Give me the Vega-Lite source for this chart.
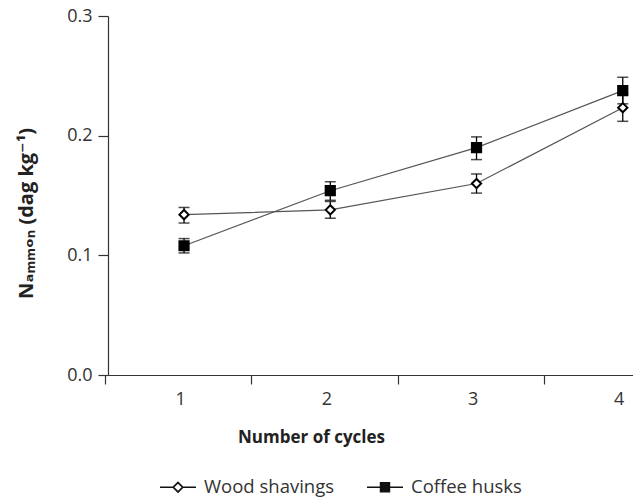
{
  "$schema": "https://vega.github.io/schema/vega-lite/v6.json",
  "width": 525,
  "height": 359,
  "autosize": {"type": "none"},
  "padding": {"left": 108, "top": 16, "right": 0, "bottom": 126},
  "background": "white",
  "config": {
    "view": {"stroke": null},
    "font": "Open Sans, DejaVu Sans",
    "axis": {"grid": false, "domainColor": "#333", "tickColor": "#333", "labelColor": "#333", "titleColor": "#222", "labelFont": "Open Sans", "titleFont": "Open Sans, DejaVu Sans", "domainWidth": 1.2, "tickWidth": 1.2}
  },
  "data": {"values": [
    {"cycle": 1, "series": "Wood shavings", "mean": 0.134, "lo": 0.127, "hi": 0.140},
    {"cycle": 2, "series": "Wood shavings", "mean": 0.138, "lo": 0.131, "hi": 0.145},
    {"cycle": 3, "series": "Wood shavings", "mean": 0.160, "lo": 0.152, "hi": 0.168},
    {"cycle": 4, "series": "Wood shavings", "mean": 0.2234, "lo": 0.212, "hi": 0.235},
    {"cycle": 1, "series": "Coffee husks", "mean": 0.108, "lo": 0.102, "hi": 0.114},
    {"cycle": 2, "series": "Coffee husks", "mean": 0.154, "lo": 0.146, "hi": 0.1615},
    {"cycle": 3, "series": "Coffee husks", "mean": 0.190, "lo": 0.180, "hi": 0.199},
    {"cycle": 4, "series": "Coffee husks", "mean": 0.2376, "lo": 0.2266, "hi": 0.2488}
  ]},
  "encoding": {
    "x": {"field": "cycle", "type": "quantitative",
      "scale": {"domain": [0.48, 4.07], "nice": false, "zero": false},
      "axis": {"values": [1, 2, 3, 4], "format": "d", "tickSize": 9, "tickOffset": -79, "labelOffset": 75, "labelFontSize": 18, "labelPadding": 6,
        "title": "Number of cycles", "titleFontSize": 17, "titleFontWeight": "bold", "titleX": 203, "titleY": 62, "titleBaseline": "middle"}},
    "y": {"type": "quantitative"}
  },
  "resolve": {"scale": {"shape": "independent"}},
  "layer": [
    {
      "mark": {"type": "line", "color": "#555", "strokeWidth": 1.2},
      "encoding": {
        "y": {"field": "mean", "type": "quantitative",
          "scale": {"domain": [0, 0.3], "nice": false},
          "axis": {"values": [0, 0.1, 0.2, 0.3], "format": ".1f", "tickSize": 10, "labelFontSize": 18, "labelPadding": 6,
            "title": "Nₐₘₘₒₙ (dag kg⁻¹)", "titleFontSize": 20, "titleFontWeight": "bold", "titlePadding": 30, "titleY": 197}},
        "detail": {"field": "series"}
      }
    },
    {
      "mark": {"type": "rule", "color": "black", "strokeWidth": 1.3},
      "encoding": {
        "y": {"field": "lo", "type": "quantitative"},
        "y2": {"field": "hi"}
      }
    },
    {
      "mark": {"type": "tick", "orient": "horizontal", "color": "black", "size": 11, "thickness": 1.5},
      "encoding": {"y": {"field": "lo", "type": "quantitative"}}
    },
    {
      "mark": {"type": "tick", "orient": "horizontal", "color": "black", "size": 11, "thickness": 1.5},
      "encoding": {"y": {"field": "hi", "type": "quantitative"}}
    },
    {
      "mark": {"type": "point", "filled": true, "stroke": "black", "strokeWidth": 2, "size": 85, "opacity": 1},
      "encoding": {
        "y": {"field": "mean", "type": "quantitative"},
        "shape": {"field": "series", "type": "nominal",
          "scale": {"domain": ["Wood shavings", "Coffee husks"], "range": ["diamond", "square"]},
          "legend": null},
        "fill": {"field": "series", "type": "nominal",
          "scale": {"domain": ["Wood shavings", "Coffee husks"], "range": ["white", "black"]},
          "legend": null}
      }
    },
    {
      "mark": {"type": "point", "filled": true, "fill": "#111", "strokeWidth": 0, "size": 0, "opacity": 1},
      "encoding": {
        "y": {"field": "mean", "type": "quantitative"},
        "shape": {"field": "series", "type": "nominal",
          "scale": {"domain": ["Wood shavings", "Coffee husks"],
            "range": [
              "M-1,-0.036L-0.3,-0.036L-0.3,0.036L-1,0.036ZM0.3,-0.036L1,-0.036L1,0.036L0.3,0.036ZM0,-0.33L0.33,0L0,0.33L-0.33,0ZM0,-0.2L-0.2,0L0,0.2L0.2,0Z",
              "M-1,-0.036L1,-0.036L1,0.036L-1,0.036ZM-0.29,-0.29L0.29,-0.29L0.29,0.29L-0.29,0.29Z"
            ]},
          "legend": {"orient": "none", "legendX": 52, "legendY": 453, "direction": "horizontal", "title": null,
            "symbolSize": 1296, "symbolOpacity": 1, "symbolFillColor": "#111", "symbolStrokeWidth": 0,
            "labelFontSize": 18.5, "labelColor": "#333", "labelFont": "Open Sans", "labelOffset": 8, "columnPadding": 32}}
      }
    }
  ]
}
